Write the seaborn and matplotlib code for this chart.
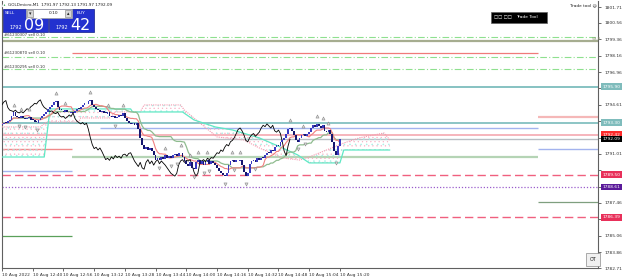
import numpy as np
import pandas as pd
import matplotlib
matplotlib.use("Agg")
import matplotlib.pyplot as plt
import seaborn as sns
from matplotlib.patches import Rectangle

sns.set_theme(style="white")
plt.rcParams["font.family"] = ["DejaVu Sans"]
plt.rcParams["hatch.linewidth"] = 0.35

# ---------------- data ----------------
first_open = 1793.10
close = [
    1793.20, 1793.30, 1793.25, 1793.40, 1793.50,
    1793.80, 1794.05,
    1793.80, 1793.70, 1793.60, 1793.75, 1793.65, 1793.55, 1793.60, 1793.70, 1793.50, 1793.45,
    1793.35, 1793.30, 1793.45,
    1793.60, 1793.80, 1793.95, 1794.10, 1794.30, 1794.45, 1794.60, 1794.80,
    1794.90,
    1794.40, 1794.20, 1794.15, 1794.10, 1794.20, 1794.05, 1794.00, 1794.10, 1794.00, 1794.15,
    1794.30, 1794.25, 1794.45, 1794.55, 1794.70, 1794.65, 1794.85,
    1794.95,
    1794.60, 1794.40, 1794.30, 1794.20, 1794.10, 1794.15, 1794.00, 1793.95, 1794.05,
    1793.80, 1793.70, 1793.75, 1793.60, 1793.70, 1793.85, 1793.75, 1794.00,
    1793.60, 1793.40, 1793.30, 1793.20, 1793.30, 1793.15, 1793.25,
    1792.80, 1792.20, 1791.70, 1791.40,
    1791.50, 1791.30, 1791.45, 1791.20,
    1790.90, 1790.60, 1790.70, 1790.55,
    1790.80, 1790.65, 1790.90, 1790.75, 1790.85, 1790.70, 1790.95, 1791.00, 1790.85,
    1791.05, 1791.10, 1790.80,
    1790.50, 1790.30, 1790.10, 1790.40, 1790.00, 1789.90,
    1790.40, 1790.60, 1790.30, 1790.50, 1790.20, 1790.45, 1790.60, 1790.30, 1790.50, 1790.35,
    1790.20, 1790.00, 1789.80, 1789.60, 1789.50, 1789.40, 1789.60,
    1790.20, 1790.50, 1790.60, 1790.40, 1790.55, 1790.50, 1790.60,
    1790.20, 1789.70, 1789.40, 1789.60,
    1790.30, 1790.50, 1790.60, 1790.45, 1790.70, 1790.60, 1790.75, 1790.70,
    1790.90, 1791.10, 1791.05, 1791.30, 1791.20,
    1791.50, 1791.70, 1791.60, 1791.90, 1792.00, 1792.20,
    1792.50, 1792.80, 1792.90, 1792.70,
    1792.40, 1792.00, 1791.90, 1792.20, 1792.40,
    1792.50, 1792.30, 1792.45, 1792.60,
    1792.90, 1793.10, 1793.00, 1793.20, 1793.05, 1792.90, 1793.10,
    1792.70, 1792.60, 1792.75, 1792.50,
    1791.90, 1791.20, 1790.90,
    1791.60, 1792.09,
]

# Ichimoku cloud spans (bar index, price)
span_a_idx = [0, 20, 23, 40, 41, 56, 59, 72, 74, 93, 95, 103, 112, 126, 134, 146, 155, 160, 178, 186, 199, 202]
span_a_val = [1792.98, 1792.98, 1793.34, 1793.34, 1793.63, 1793.63, 1794.07, 1794.07, 1794.58, 1794.58,
              1794.21, 1793.27, 1792.25, 1792.03, 1791.45, 1790.72, 1790.57, 1790.79, 1791.81, 1792.18,
              1792.54, 1792.03]
span_b_idx = [0, 22, 25, 67, 68, 94, 100, 111, 120, 134, 145, 154, 160, 176, 178, 202]
span_b_val = [1790.79, 1790.79, 1794.29, 1794.29, 1794.07, 1794.07, 1793.49, 1792.98, 1792.76, 1792.18,
              1791.52, 1790.94, 1790.36, 1790.36, 1791.30, 1791.30]

# time axis
tick_idx = [0, 16, 32, 48, 64, 80, 96, 112, 128, 144, 160, 176]
tick_lbl = ["10 Aug 2022", "10 Aug 12:40", "10 Aug 12:56", "10 Aug 13:12", "10 Aug 13:28",
            "10 Aug 13:44", "10 Aug 14:00", "10 Aug 14:16", "10 Aug 14:32", "10 Aug 14:48",
            "10 Aug 15:04", "10 Aug 15:20"]

# price axis (labels hidden behind coloured price tags are left blank)
price_ticks = [1801.71, 1800.56, 1799.36, 1798.16, 1796.96, 1795.81, 1794.61, 1793.41, 1792.21,
               1791.01, 1789.81, 1788.61, 1787.46, 1786.26, 1785.06, 1783.86, 1782.71]
price_tick_lbl = ["1801.71", "1800.56", "1799.36", "1798.16", "1796.96", "", "1794.61", "", "",
                  "1791.01", "", "", "1787.46", "", "1785.06", "1783.86", "1782.71"]

# horizontal lines: price, x-start(px), x-end(px), colour, width, style
hl_price = [1799.24, 1799.49, 1798.36, 1798.07, 1797.20, 1795.90, 1793.67, 1793.30, 1792.90,
            1792.42, 1792.09, 1791.38, 1791.38, 1790.79, 1789.77, 1789.50, 1788.61, 1787.52,
            1786.39, 1785.04]
hl_x0 = [2, 2, 72, 2, 2, 2, 538, 2, 100, 2, 2, 2, 538, 72, 2, 2, 2, 538, 2, 2]
hl_x1 = [598, 598, 538, 598, 598, 598, 598, 598, 538, 598, 598, 72, 598, 538, 72, 598, 598, 598, 598, 72]
hl_col = ["#a6ad90", "#8fe08f", "#f07a7a", "#8fe08f", "#8fe08f", "#86c2c2", "#f5b8b8", "#8cc5c5",
          "#a3b3ee", "#f5a8b0", "#b8bec4", "#f08a8a", "#a3b3ee", "#b5d4b5", "#a3b3ee", "#f0607f",
          "#9a5ccc", "#7f9f7f", "#f0607f", "#5aa05a"]
hl_lw = [1.6, 0.8, 0.9, 0.8, 0.8, 1.4, 1.6, 1.4, 1.0, 1.2, 1.0, 1.0, 1.0, 1.6, 1.0, 1.0, 0.9, 0.9, 1.0, 0.9]
hl_ls = ["-", (0, (6, 2, 1, 2)), "-", (0, (6, 2, 1, 2)), (0, (6, 2, 1, 2)), "-", "-", "-", "-", "-",
         "-", "-", "-", "-", "-", (0, (6, 3)), (0, (1, 1.5)), "-", (0, (6, 3)), "-"]

# right axis price labels
lab_price = [1795.90, 1793.30, 1792.42, 1792.09, 1789.50, 1788.61, 1786.39]
lab_bg = ["#7fbcbc", "#7fbcbc", "#ff2a2a", "#000000", "#e8305a", "#5a1a9a", "#e8305a"]

order_labels = ["#61230307 sell 0.10", "#61230870 sell 0.10", "#61230295 sell 0.10"]
order_label_y = [35.5, 53.5, 67.5]

# ---------------- figure ----------------
W, H = 625, 279
fig = plt.figure(figsize=(W / 100, H / 100), dpi=100)
fig.patch.set_facecolor("white")
ax = fig.add_axes([2 / W, 11 / H, 596 / W, 267 / H])
PX = 1.92  # px per bar
xmax = 596 / PX
ax.set_xlim(0, xmax)
ax.set_ylim(1782.71, 1802.147)
ax.set_facecolor("white")

def px2idx(x):
    return (x - 2) / PX

def fxy(x, y):
    return x / W, 1 - y / H

# horizontal lines
for p, a, b, c, lw, ls in zip(hl_price, hl_x0, hl_x1, hl_col, hl_lw, hl_ls):
    ax.hlines(p, px2idx(a), px2idx(b), colors=c, linewidth=lw, linestyles=ls, zorder=1)

# cloud
grid = np.arange(0, 203)
a_i = np.interp(grid, span_a_idx, span_a_val)
b_i = np.interp(grid, span_b_idx, span_b_val)
ax.fill_between(grid, a_i, b_i, facecolor="none", edgecolor="#f7b0c4", hatch="....", linewidth=0, zorder=2)
ax.fill_between(grid, a_i, b_i, facecolor="none", edgecolor="#a8eee6", hatch="...", linewidth=0, zorder=2)
sns.lineplot(x=span_a_idx, y=span_a_val, ax=ax, color="#f59ab0", linewidth=0.8, linestyle=(0, (1, 1)),
             estimator=None, sort=False, zorder=3)
sns.lineplot(x=span_b_idx, y=span_b_val, ax=ax, color="#5fe8c4", linewidth=0.9,
             estimator=None, sort=False, zorder=3)

# tenkan / kijun
cs = pd.Series(close)
tenkan = (cs.rolling(9, min_periods=1).max() + cs.rolling(9, min_periods=1).min()) / 2
kijun = (cs.rolling(26, min_periods=1).max() + cs.rolling(26, min_periods=1).min()) / 2
idx = np.arange(len(close))
sns.lineplot(x=idx, y=kijun.values, ax=ax, color="#8fbc8f", linewidth=0.9, estimator=None, zorder=4)
sns.lineplot(x=idx, y=tenkan.values, ax=ax, color="#f08080", linewidth=0.8, estimator=None, zorder=4)

# chikou (close shifted back 26 bars)
sns.lineplot(x=idx[26:] - 26, y=close[26:], ax=ax, color="black", linewidth=0.6, estimator=None, zorder=4)

# candles
opens = [first_open] + close[:-1]
body = np.array(close) - np.array(opens)
body = np.where(np.abs(body) < 0.05, 0.05, body)
cols = ["#3a3ac0" if c >= o else "#16166e" for o, c in zip(opens, close)]
ax.bar(idx, body, bottom=opens, width=0.9, color=cols, linewidth=0, zorder=5)

# fractals
up_i, dn_i = [], []
for i in range(2, len(close) - 2):
    w = close[i - 2:i + 3]
    if close[i] == max(w) and w.count(close[i]) == 1:
        up_i.append(i)
    if close[i] == min(w) and w.count(close[i]) == 1:
        dn_i.append(i)
ax.scatter(up_i, [close[i] + 0.55 for i in up_i], marker="^", s=5, facecolor="#d8d8d8",
           edgecolor="#8a8a8a", linewidth=0.4, zorder=6)
ax.scatter(dn_i, [close[i] - 0.55 for i in dn_i], marker="v", s=5, facecolor="#d8d8d8",
           edgecolor="#8a8a8a", linewidth=0.4, zorder=6)

# axes styling
ax.spines["top"].set_visible(False)
for s in ["left", "bottom", "right"]:
    ax.spines[s].set_visible(True)
    ax.spines[s].set_color("#606060")
    ax.spines[s].set_linewidth(0.8)
ax.yaxis.tick_right()
ax.set_yticks(price_ticks)
ax.set_yticklabels(price_tick_lbl, fontsize=3.2, color="#303030")
ax.tick_params(axis="y", length=2, width=0.5, pad=2.5, colors="#303030", right=True, left=False)
ax.set_xticks(tick_idx)
ax.set_xticklabels(tick_lbl, fontsize=3.2, color="#303030", ha="left")
ax.tick_params(axis="x", length=2.5, width=0.5, pad=1.0, colors="#303030", bottom=True)
ax.set_xlabel("")
ax.set_ylabel("")
ax.grid(False)

# right axis labels
for p, bg in zip(lab_price, lab_bg):
    ax.annotate(f"{p:.2f}", xy=(1.0, p), xycoords=("axes fraction", "data"), xytext=(3.2, 0),
                textcoords="offset points", fontsize=3.2, color="white", va="center", ha="left",
                bbox=dict(boxstyle="square,pad=0.3", fc=bg, ec="none"), zorder=10,
                annotation_clip=False)

# ---------------- overlay widgets ----------------
def rect(x0, y0, x1, y1, fc, ec="none", lw=0.5, z=20):
    fig.patches.append(Rectangle(fxy(x0, y1), (x1 - x0) / W, (y1 - y0) / H, facecolor=fc,
                                 edgecolor=ec, linewidth=lw, transform=fig.transFigure, zorder=z))

def ftxt(x, y, s, **kw):
    fig.text(*fxy(x, y), s, zorder=30, **kw)

ftxt(8, 4.5, "GOLDmicro,M1  1791.97 1792.13 1791.97 1792.09", fontsize=3.0, color="#202020", va="center")
fig.patches.append(plt.Polygon([fxy(2.5, 6.5), fxy(6.5, 6.5), fxy(4.5, 2.5)], closed=True,
                               facecolor="#2e9a4a", transform=fig.transFigure, zorder=20))

rect(3, 9, 48, 32, "#2331cf", "#121c8a")
rect(49, 9, 94, 32, "#2331cf", "#121c8a")
rect(26, 9, 72, 17.5, "white", "#a0a0a0")
rect(27, 10, 33, 16.5, "#d8d8d8", "#909090", z=21)
rect(65, 10, 71, 16.5, "#d8d8d8", "#909090", z=21)
ftxt(30, 13.3, "▾", fontsize=3.5, color="#202020", ha="center", va="center")
ftxt(68, 13.3, "▴", fontsize=3.5, color="#202020", ha="center", va="center")
ftxt(58.5, 13.3, "0.10", fontsize=3.2, color="#202020", ha="right", va="center")
ftxt(5, 13.3, "SELL", fontsize=3.2, color="white", va="center")
ftxt(77, 13.3, "BUY", fontsize=3.2, color="white", va="center")
ftxt(10, 27.5, "1792", fontsize=3.6, color="white", va="center")
ftxt(56, 27.5, "1792", fontsize=3.6, color="white", va="center")
ftxt(24, 33.5, "09", fontsize=11.5, color="white", va="bottom")
ftxt(70, 33.5, "42", fontsize=11.5, color="white", va="bottom")

for s, y in zip(order_labels, order_label_y):
    ftxt(4, y, s, fontsize=2.8, color="#303030", va="center")

ftxt(597, 5, "Trade tool ☺", fontsize=3.1, color="#202020", ha="right", va="center")
rect(491, 12, 547, 23, "black", "#606060")
ftxt(494, 17.5, "□□ □□", fontsize=3.2, color="white", va="center")
ftxt(516, 17.5, "Trade Tool", fontsize=3.2, color="white", va="center")
ftxt(592, 38.5, "59.8", fontsize=3.0, color="#8a9070", va="center")

rect(586, 253, 600, 266, "#f0f0f0", "#8a8a8a")
ftxt(593, 259.5, "OT", fontsize=3.4, color="#202020", ha="center", va="center")

fig.savefig("out.png", dpi=100, facecolor="white")
